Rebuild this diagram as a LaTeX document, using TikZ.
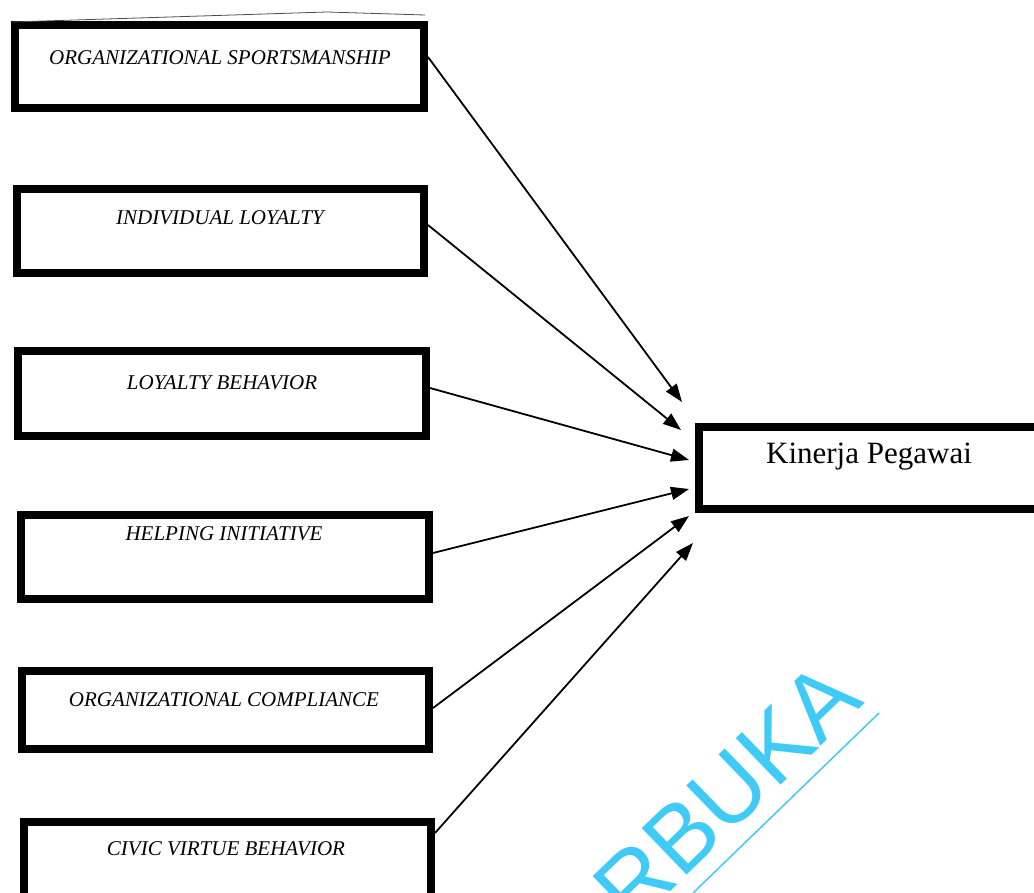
\documentclass[tikz,border=0pt]{standalone}
\usepackage{fontspec}
\setmainfont{Liberation Serif}
\newfontfamily\wmfont{Liberation Sans}
\usetikzlibrary{arrows.meta,calc}
\definecolor{wmcol}{HTML}{3FCBF5}
\begin{document}
\begin{tikzpicture}[x=1pt,y=-1pt,
  box/.style={draw, line width=8pt, rectangle, minimum width=408pt, minimum height=84pt, inner sep=0pt},
  lab/.style={font=\fontsize{21}{21}\selectfont\itshape, anchor=base, inner sep=0pt},
  arr/.style={line width=1.8pt, -{Triangle[length=18pt,width=13pt]}}]
\useasboundingbox (0,0) rectangle (1034,893);
\clip (0,0) rectangle (1034,893);
\fill[white] (0,0) rectangle (1034,893);
% boxes
\node[box, minimum width=409pt, minimum height=83pt] (b1) at (219.5,66.5) {};
\node[box, minimum width=407pt] (b2) at (220.5,231) {};
\node[box, minimum height=85pt] (b3) at (222,393.5) {};
\node[box] (b4) at (225,557) {};
\node[box, minimum width=407pt, minimum height=78pt] (b5) at (225.5,710) {};
\node[box, minimum width=407pt] (b6) at (227.5,864) {};
\node[box, minimum width=420pt, minimum height=82pt] (k) at (909,468) {};
% labels
\node[lab] (l1) at (220,65) {ORGANIZATIONAL SPORTSMANSHIP};
\node[lab] (l2) at (220,225) {INDIVIDUAL LOYALTY};
\node[lab] (l3) at (222,390) {LOYALTY BEHAVIOR};
\node[lab] (l4) at (224,540) {HELPING INITIATIVE};
\node[lab] (l5) at (224,706) {ORGANIZATIONAL COMPLIANCE};
\node[lab] (l6) at (226,855) {CIVIC VIRTUE BEHAVIOR};
\node[font=\fontsize{31}{31}\selectfont, anchor=base, inner sep=0pt] (kl) at (869,463) {Kinerja Pegawai};
% arrow tips
\coordinate (t1) at (682,402);
\coordinate (t2) at (681,430);
\coordinate (t3) at (689,460);
\coordinate (t4) at (689,489);
\coordinate (t5) at (689,516);
\coordinate (t6) at (693,543);
\draw[arr] ([yshift=9.5pt]b1.east) -- (t1);
\draw[arr] ([yshift=6pt]b2.east) -- (t2);
\draw[arr] ([yshift=5.5pt]b3.east) -- (t3);
\draw[arr] ([yshift=4pt]b4.east) -- (t4);
\draw[arr] ([yshift=2pt]b5.east) -- (t5);
\draw[arr] ([yshift=31pt]b6.east) -- (t6);
% scan artifact line
\draw[line width=0.8pt, black!70] (12,22) -- (327,12) -- (425,15);
% watermark
\node[text=wmcol, font=\wmfont\fontsize{94}{94}\selectfont, rotate=44, anchor=base east, inner sep=0pt] (wm) at (866,703) {RBUKA};
\draw[wmcol, line width=1.5pt] (693,893) -- (879,713);
\end{tikzpicture}
\end{document}
